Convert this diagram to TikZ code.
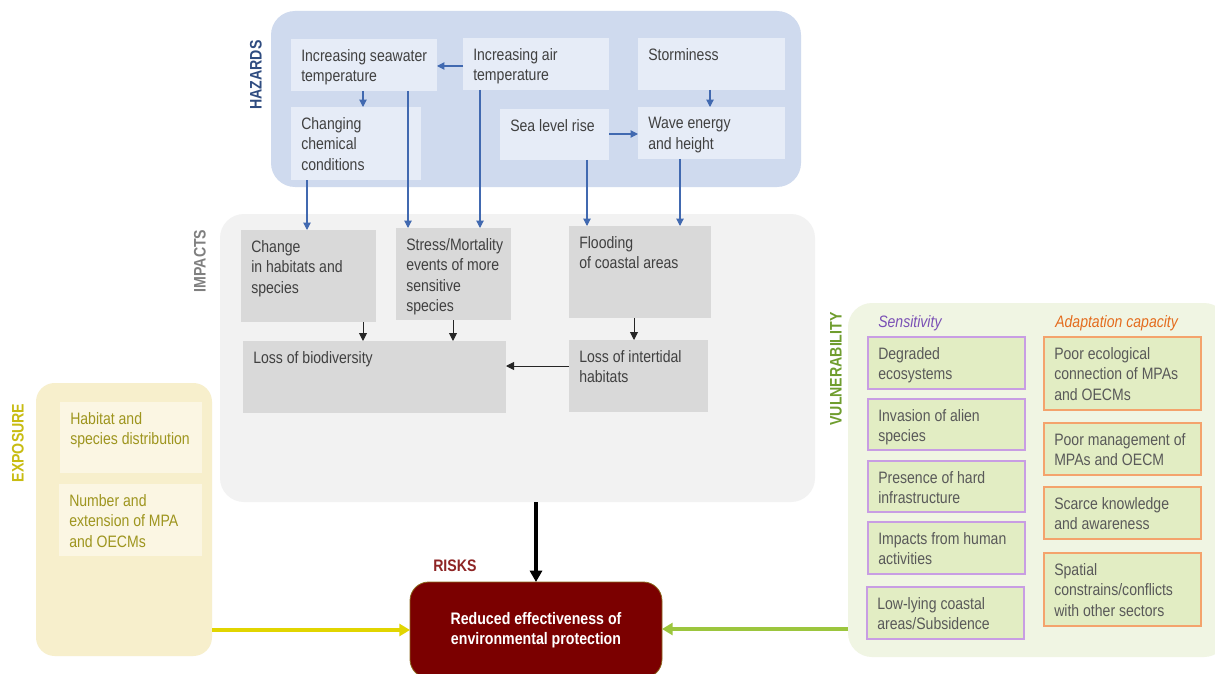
\documentclass[tikz,border=0pt]{standalone}
\usepackage{fontspec}
\setmainfont{Liberation Sans}[FakeStretch=0.85]
\usetikzlibrary{arrows.meta}
\definecolor{hzpanel}{HTML}{CFDAEE}
\definecolor{hzbox}{HTML}{E6ECF7}
\definecolor{hzlab}{HTML}{2F4C80}
\definecolor{txt}{HTML}{404040}
\definecolor{barc}{HTML}{4169B0}
\definecolor{impanel}{HTML}{F2F2F2}
\definecolor{imbox}{HTML}{D9D9D9}
\definecolor{imlab}{HTML}{7F7F7F}
\definecolor{expanel}{HTML}{F7EFCC}
\definecolor{exbox}{HTML}{FBF6E3}
\definecolor{extxt}{HTML}{9E951E}
\definecolor{exlab}{HTML}{C8BC12}
\definecolor{vupanel}{HTML}{F0F5E3}
\definecolor{vubox}{HTML}{E2EDC3}
\definecolor{vutxt}{HTML}{595959}
\definecolor{vulab}{HTML}{6F9D2E}
\definecolor{sensc}{HTML}{C89DE3}
\definecolor{sensh}{HTML}{7A4FB5}
\definecolor{adapc}{HTML}{F4A36C}
\definecolor{adaph}{HTML}{E46C1E}
\definecolor{riskf}{HTML}{7B0000}
\definecolor{riskd}{HTML}{8C6A1E}
\definecolor{risklab}{HTML}{8E2424}
\definecolor{yarr}{HTML}{E1D500}
\definecolor{garr}{HTML}{9CC63E}
\newcommand\fs{\fontsize{12.4}{15.4}\selectfont}
\newcommand\fb{\fontsize{12.5}{15}\selectfont\bfseries}
\newcommand\bx[7]{\node[#6, minimum width={(#4-#2)*0.75pt}, minimum height={(#5-#3)*0.75pt}, label={[#6 lbl]north west:{#7}}] (#1) at ({(#2+#4)/2},{(#3+#5)/2}) {};}
\newcommand\pn[6]{\node[#6, minimum width={(#4-#2)*0.75pt}, minimum height={(#5-#3)*0.75pt}] (#1) at ({(#2+#4)/2},{(#3+#5)/2}) {};}
\tikzset{
  base/.style={rectangle, inner sep=0pt, outer sep=0pt},
  basel/.style={anchor=north west, inner xsep=7.5pt, inner ysep=7.5pt, align=left, font=\fs},
  hzp/.style={base, fill=hzpanel, rounded corners=18pt},
  imp/.style={base, fill=impanel, rounded corners=18pt},
  exp/.style={base, fill=expanel, rounded corners=14pt},
  vup/.style={base, fill=vupanel, rounded corners=18pt},
  hz/.style={base, fill=hzbox},
  hz lbl/.style={basel, text=txt},
  im/.style={base, fill=imbox},
  im lbl/.style={basel, text=txt},
  ex/.style={base, fill=exbox},
  ex lbl/.style={basel, text=extxt},
  se/.style={base, fill=vubox, draw=sensc, line width=0.9pt},
  se lbl/.style={basel, text=vutxt},
  ad/.style={base, fill=vubox, draw=adapc, line width=0.9pt},
  ad lbl/.style={basel, text=vutxt},
  sidelab/.style={font=\fb, rotate=90},
  head/.style={anchor=base west, inner sep=0pt},
  barrow/.style={draw=barc, line width=0.8pt, -{Triangle[length=5.5pt,width=5.5pt]}},
  karrow/.style={draw=black!85, line width=0.7pt, -{Triangle[length=6pt,width=6pt]}},
  bigarrow/.style={draw=black, line width=2.3pt, -{Triangle[length=8.5pt,width=9pt]}},
  yarrow/.style={draw=yarr, line width=2.3pt, -{Triangle[length=8pt,width=9pt]}},
  garrow/.style={draw=garr, line width=2.3pt, -{Triangle[length=8pt,width=9pt]}},
}
\begin{document}
\begin{tikzpicture}[x=0.75pt,y=-0.75pt]
\fill[white] (0,0) rectangle (1215,674);
\useasboundingbox (0,0) rectangle (1215,674);
% panels
\pn{haz}{271}{11}{801}{187}{hzp}
\pn{imp}{220}{214}{815}{502}{imp}
\pn{expo}{36}{383}{212}{656}{exp}
\pn{vul}{848}{303}{1228}{657}{vup}
% side labels
\node[sidelab, text=hzlab] (hzl) at (256,75) {HAZARDS};
\node[sidelab, text=imlab] (iml) at (200,261) {IMPACTS};
\node[sidelab, text=exlab] (exl) at (18,443) {EXPOSURE};
\node[sidelab, text=vulab] (vul l) at (836,369) {VULNERABILITY};
% hazards
\bx{sw}{291}{39}{437}{91}{hz}{Increasing seawater\\temperature}
\bx{air}{463}{38}{609}{90}{hz}{Increasing air\\temperature}
\bx{storm}{638}{38}{785}{90}{hz}{Storminess}
\bx{chg}{291}{107}{421}{180}{hz}{Changing\\chemical\\conditions}
\bx{slr}{500}{109}{609}{160}{hz}{Sea level rise}
\bx{wave}{638}{107}{785}{159}{hz}{Wave energy\\and height}
% impacts
\bx{chb}{241}{230}{376}{322}{im}{Change\\in habitats and\\species}
\bx{stm}{396}{228}{511}{320}{im}{Stress/Mortality\\events of more\\sensitive\\species}
\bx{fl}{569}{226}{711}{318}{im}{Flooding\\of coastal areas}
\bx{lob}{243}{341}{506}{413}{im}{Loss of biodiversity}
\bx{loi}{569}{340}{708}{412}{im}{Loss of intertidal\\habitats}
% exposure
\bx{ex1}{60}{402}{202}{473}{ex}{Habitat and\\species distribution}
\bx{ex2}{59}{484}{202}{556}{ex}{Number and\\extension of MPA\\and OECMs}
% vulnerability
\node[head, font=\fs\itshape, text=sensh] (sh) at (878,327) {Sensitivity};
\node[head, font=\fs\itshape, text=adaph] (ah) at (1055,327) {Adaptation capacity};
\bx{s1}{868}{337}{1025}{389}{se}{Degraded\\ecosystems}
\bx{s2}{868}{399}{1025}{450}{se}{Invasion of alien\\species}
\bx{s3}{868}{461}{1025}{512}{se}{Presence of hard\\infrastructure}
\bx{s4}{868}{522}{1025}{574}{se}{Impacts from human\\activities}
\bx{s5}{867}{587}{1024}{639}{se}{Low-lying coastal\\areas/Subsidence}
\bx{a1}{1044}{337}{1201}{410}{ad}{Poor ecological\\connection of MPAs\\and OECMs}
\bx{a2}{1044}{423}{1201}{475}{ad}{Poor management of\\MPAs and OECM}
\bx{a3}{1044}{487}{1201}{539}{ad}{Scarce knowledge\\and awareness}
\bx{a4}{1044}{553}{1201}{626}{ad}{Spatial\\constrains/conflicts\\with other sectors}
% risk
\node[head, font=\fb, text=risklab] (rl) at (433,571) {RISKS};
\node[base, fill=riskf, draw=riskd, line width=0.6pt, rounded corners=14pt, minimum width=252*0.75pt, minimum height=96*0.75pt, text=white, font=\fb, align=center] (risk) at (536,630) {Reduced effectiveness of\\environmental protection};
% hazard arrows
\draw[barrow] (air.west |- 0,66) -- (sw.east |- 0,66);
\draw[barrow] (sw.south -| 363,0) -- (chg.north -| 363,0);
\draw[barrow] (storm.south -| 710,0) -- (wave.north -| 710,0);
\draw[barrow] (slr.east |- 0,134) -- (wave.west |- 0,134);
\draw[barrow] (chg.south -| 307,0) -- (chb.north -| 307,0);
\draw[barrow] (sw.south -| 408,0) -- (stm.north -| 408,0);
\draw[barrow] (air.south -| 480,0) -- (stm.north -| 480,0);
\draw[barrow] (slr.south -| 587,0) -- (fl.north -| 587,0);
\draw[barrow] (wave.south -| 680,0) -- (fl.north -| 680,0);
% impact arrows
\draw[karrow] (chb.south -| 363,0) -- (lob.north -| 363,0);
\draw[karrow] (stm.south -| 453,0) -- (lob.north -| 453,0);
\draw[karrow] (fl.south -| 634,0) -- (loi.north -| 634,0);
\draw[karrow] (loi.west |- 0,366) -- (lob.east |- 0,366);
% main arrows
\draw[bigarrow] (imp.south -| 536,0) -- (risk.north -| 536,0);
\draw[yarrow] (expo.east |- 0,630) -- (risk.west |- 0,630);
\draw[garrow] (vul.west |- 0,629) -- (risk.east |- 0,629);
\end{tikzpicture}
\end{document}
